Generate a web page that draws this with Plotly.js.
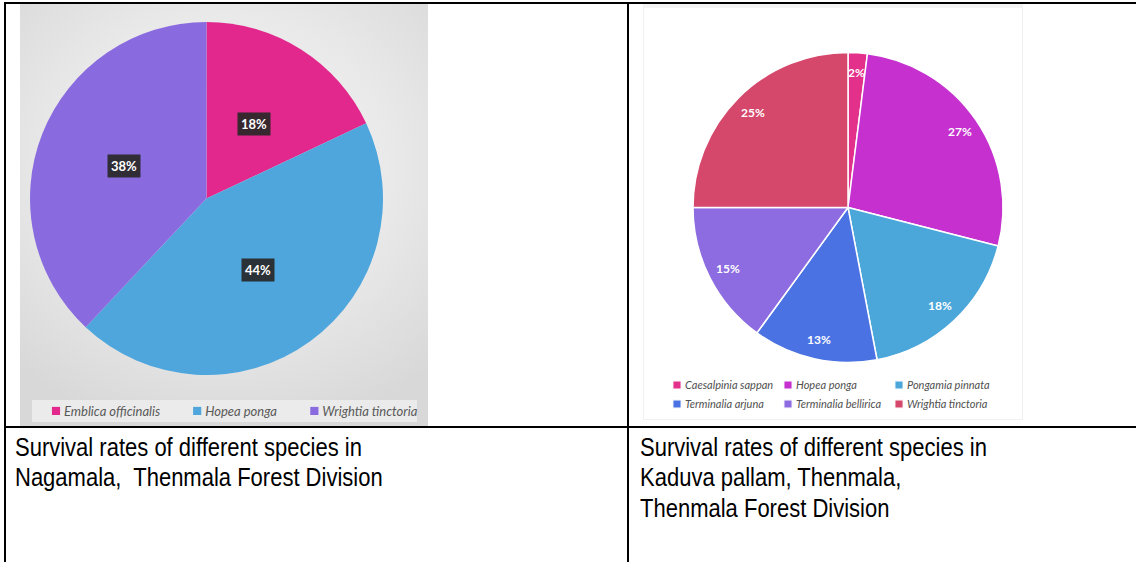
<!DOCTYPE html>
<html>
<head>
<meta charset="utf-8">
<script src="https://cdn.plot.ly/plotly-3.0.1.min.js"></script>
<style>
html,body{margin:0;padding:0;background:#fff;width:1136px;height:562px;overflow:hidden;}
#page{position:relative;width:1136px;height:562px;}
.line{position:absolute;background:#000;}
#leftBg{position:absolute;left:20px;top:3px;width:408px;height:424px;
  background:radial-gradient(ellipse 75% 65% at 50% 38%, #f7f7f7 0%, #e9e9e9 55%, #d8d8d8 100%);}
#rightBg{position:absolute;left:643px;top:3px;width:380px;height:417px;border:1px solid #f1f1f1;border-top:5px solid #f4f4f4;box-sizing:border-box;}
#leftChart{position:absolute;left:20px;top:3px;width:607px;height:424px;}
#rightChart{position:absolute;left:643px;top:3px;width:380px;height:420px;}
.cap{position:absolute;font-family:"Liberation Sans",Arial,sans-serif;font-size:22px;line-height:25.8px;color:#000;white-space:pre;transform:scaleY(1.18);transform-origin:0 0;}
.legend .scrollbox{clip-path:none !important;}
.legendpoints path.legendpie{transform:translate(32px,0px) scale(0.68);}
</style>
</head>
<body>
<div id="page">
  <div id="leftBg"></div>
  <div id="rightBg"></div>
  <div id="leftChart"></div>
  <div id="rightChart"></div>
  <div class="line" style="left:4px;top:2px;width:1132px;height:2px;"></div>
  <div class="line" style="left:4px;top:2px;width:2px;height:560px;"></div>
  <div class="line" style="left:627px;top:2px;width:2px;height:560px;"></div>
  <div class="line" style="left:4px;top:426px;width:1132px;height:2px;"></div>
  <div class="cap" id="leftCap" style="left:15px;top:432px;"></div>
  <div class="cap" id="rightCap" style="left:640px;top:432px;"></div>
</div>
<script>
// ---- data ----
const leftCategories = ['Emblica officinalis', 'Hopea ponga', 'Wrightia tinctoria'];
const leftValues = [18, 44, 38];
const leftColors = ['#E2288C', '#4EA6DC', '#8A6BDF'];

const rightCategories = ['Caesalpinia sappan', 'Hopea ponga', 'Pongamia pinnata',
                         'Terminalia arjuna', 'Terminalia bellirica', 'Wrightia tinctoria'];
const rightValues = [2, 27, 18, 13, 15, 25];
const rightColors = ['#E2308B', '#C530CF', '#4BA6DA', '#4A72E3', '#8C6CE0', '#D5476B'];

const leftCaption = ['Survival rates of different species in', 'Nagamala,  Thenmala Forest Division'];
const rightCaption = ['Survival rates of different species in', 'Kaduva pallam, Thenmala,', 'Thenmala Forest Division'];

// ---- captions ----
document.getElementById('leftCap').textContent = leftCaption.join('\n');
document.getElementById('rightCap').textContent = rightCaption.join('\n');

// ---- helpers ----
function labelAnnotations(values, domain, W, H, frac, style) {
  const total = values.reduce((a, b) => a + b, 0);
  const cx = (domain.x[0] + domain.x[1]) / 2, cy = (domain.y[0] + domain.y[1]) / 2;
  const r = Math.min((domain.x[1] - domain.x[0]) * W, (domain.y[1] - domain.y[0]) * H) / 2;
  let cum = 0;
  return values.map(v => {
    const mid = (cum + v / 2) / total * 2 * Math.PI;
    cum += v;
    return Object.assign({
      xref: 'paper', yref: 'paper',
      x: cx + frac * r * Math.sin(mid) / W,
      y: cy + frac * r * Math.cos(mid) / H,
      text: Math.round(v / total * 100) + '%',
      showarrow: false, xanchor: 'center', yanchor: 'middle'
    }, style);
  });
}

const config = {staticPlot: true, displayModeBar: false};

// ---- left chart ----
const LW = 607, LH = 424;
const leftDomain = {x: [10 / LW, 363 / LW], y: [1 - 372 / LH, 1 - 19 / LH]};
Plotly.newPlot('leftChart', [{
  type: 'pie', labels: leftCategories, values: leftValues,
  marker: {colors: leftColors, line: {width: 0}},
  sort: false, direction: 'clockwise', textinfo: 'none', hoverinfo: 'skip',
  domain: leftDomain
}], {
  width: LW, height: LH, margin: {l: 0, r: 0, t: 0, b: 0},
  paper_bgcolor: 'rgba(0,0,0,0)', plot_bgcolor: 'rgba(0,0,0,0)',
  showlegend: true,
  legend: {orientation: 'h', x: 4 / LW, xanchor: 'left', y: 1 - 408 / LH, yanchor: 'middle',
           bgcolor: 'rgba(0,0,0,0)', font: {family: 'Lato', size: 13, color: '#595959', style: 'italic'}},
  shapes: [{type: 'rect', xref: 'paper', yref: 'paper', layer: 'below',
            x0: 12 / LW, x1: 397 / LW, y0: 1 - 419 / LH, y1: 1 - 397 / LH,
            fillcolor: '#ebebeb', line: {width: 0}}],
  annotations: labelAnnotations(leftValues, leftDomain, LW, LH, 0.5, {
    font: {family: 'Lato', size: 13, color: '#ffffff', weight: 'bold'},
    bgcolor: 'rgba(40,40,40,0.92)', borderpad: 3
  })
}, config);

// ---- right chart ----
const RW = 380, RH = 420;
const rightDomain = {x: [50 / RW, 360 / RW], y: [1 - 359.5 / RH, 1 - 49.5 / RH]};
Plotly.newPlot('rightChart', [{
  type: 'pie', labels: rightCategories, values: rightValues,
  marker: {colors: rightColors, line: {width: 1.5, color: '#ffffff'}},
  sort: false, direction: 'clockwise', textinfo: 'none', hoverinfo: 'skip',
  domain: rightDomain
}], {
  width: RW, height: RH, margin: {l: 0, r: 0, t: 0, b: 0},
  paper_bgcolor: 'rgba(0,0,0,0)', plot_bgcolor: 'rgba(0,0,0,0)',
  showlegend: true,
  legend: {orientation: 'h', x: 2 / RW, xanchor: 'left', y: 1 - 367.5 / RH, yanchor: 'top',
           entrywidth: 66, entrywidthmode: 'pixels',
           bgcolor: 'rgba(0,0,0,0)', font: {family: 'Lato', size: 11, color: '#505050', style: 'italic'}},
  annotations: labelAnnotations(rightValues, rightDomain, RW, RH, 0.87, {
    font: {family: 'Lato', size: 12, color: '#ffffff', weight: 'bold'}
  })
}, config);
</script>
</body>
</html>
